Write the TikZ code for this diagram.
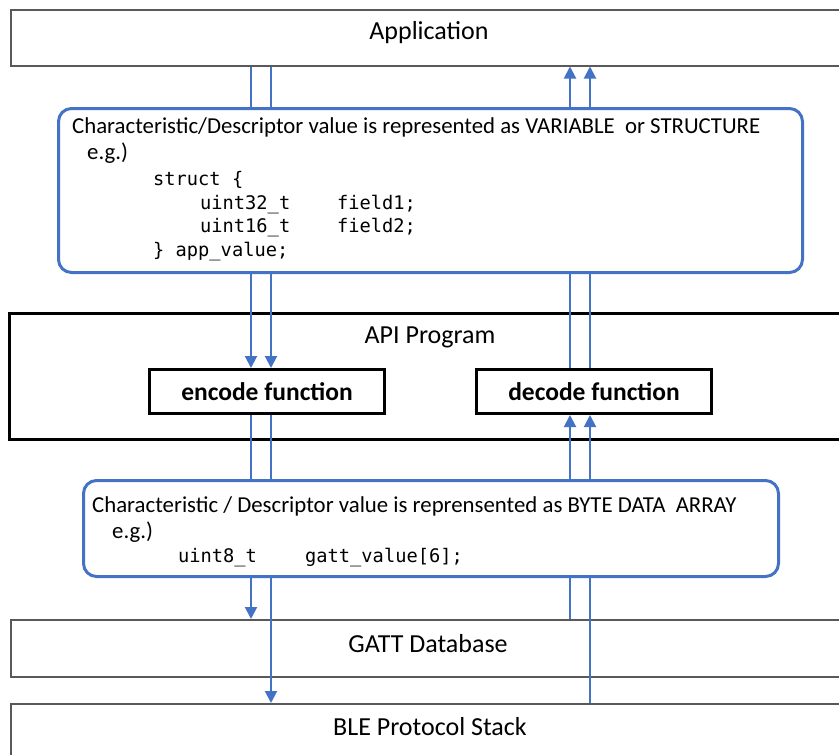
\documentclass[tikz,border=0pt]{standalone}
\usepackage{fontspec}
\setmainfont{Carlito}
\setmonofont{DejaVu Sans Mono}
\usetikzlibrary{arrows.meta}
\definecolor{linkblue}{HTML}{4472C4}
\definecolor{layergray}{HTML}{595959}

\begin{document}
\begin{tikzpicture}[x=1pt,y=-1pt,
  layerbox/.style={draw=layergray, line width=1.5pt, fill=white, anchor=north west, inner sep=0pt},
  valuebox/.style={draw=linkblue, line width=3pt, rounded corners=13pt, fill=white, anchor=north west, inner sep=0pt},
  apibox/.style={draw=black, line width=3pt, anchor=north west, inner sep=0pt},
  funcbox/.style={draw=black, line width=3pt, anchor=north west, inner sep=0pt, fill=white},
  functext/.style={font=\fontsize{25.5}{29}\selectfont\bfseries},
  layertext/.style={font=\fontsize{26}{30}\selectfont},
  flow/.style={draw=linkblue, line width=2pt},
  arr/.style={flow, -{Triangle[width=12pt,length=12pt]}},
  body/.style={anchor=base west, inner sep=0pt, font=\fontsize{22.8}{26}\selectfont},
  code/.style={anchor=base west, inner sep=0pt, font=\fontsize{18.7}{22}\selectfont\ttfamily}
]
\clip (0,0) rectangle (839,755);
\fill[white] (0,0) rectangle (839,755);

% connector columns
\coordinate (c1) at (251,0);
\coordinate (c2) at (271,0);
\coordinate (c3) at (570,0);
\coordinate (c4) at (590,0);

% layers
\node[layerbox, minimum width=850pt, minimum height=56pt] (app) at (10,9) {};
\node[layertext] (applbl) at (429,33) {Application};

\node[valuebox, minimum width=744pt, minimum height=164pt] (var) at (57,107) {};
\node[body] (vart) at (72,133) {Characteristic/Descriptor value is represented as VARIABLE\ \ or STRUCTURE};
\node[body] (vareg) at (87,159) {e.g.)};
\node[code] (v1) at (153,185) {struct \{};
\node[code] (v2a) at (200,209) {uint32\_t};
\node[code] (v2b) at (337,209) {field1;};
\node[code] (v3a) at (200,232) {uint16\_t};
\node[code] (v3b) at (337,232) {field2;};
\node[code] (v4) at (153,256) {\} app\_value;};

\node[apibox, minimum width=850pt, minimum height=126pt] (api) at (8,312) {};
\node[layertext] (apilbl) at (430,337) {API Program};
\node[funcbox, minimum width=235pt, minimum height=44pt] (enc) at (148,368) {};
\node[functext] at (enc.center) {encode function};
\node[funcbox, minimum width=235pt, minimum height=44pt] (dec) at (475,368) {};
\node[functext] at (dec.center) {decode function};

\node[valuebox, minimum width=695pt, minimum height=96pt] (byte) at (82,479) {};
\node[body] (bytet) at (92,512) {Characteristic / Descriptor value is reprensented as BYTE DATA\ \ ARRAY};
\node[body] (byteeg) at (112,538) {e.g.)};
\node[code] (b1a) at (178,562) {uint8\_t};
\node[code] (b1b) at (305,562) {gatt\_value[6];};

\node[layerbox, minimum width=850pt, minimum height=57pt] (gatt) at (10,619) {};
\node[layertext] (gattlbl) at (428,644) {GATT Database};
\node[layerbox, minimum width=850pt, minimum height=80pt] (ble) at (10,703) {};
\node[layertext] (blelbl) at (430,727) {BLE Protocol Stack};

% encode path (downwards)
\draw[flow] (app.south -| c1) -- (var.north -| c1);
\draw[flow] (app.south -| c2) -- (var.north -| c2);
\draw[arr] (var.south -| c1) -- (enc.north -| c1);
\draw[arr] (var.south -| c2) -- (enc.north -| c2);
\draw[flow] (enc.south -| c1) -- (byte.north -| c1);
\draw[flow] (enc.south -| c2) -- (byte.north -| c2);
\draw[arr] (byte.south -| c1) -- (gatt.north -| c1);
\draw[arr] (byte.south -| c2) -- (ble.north -| c2);

% decode path (upwards)
\draw[arr] (var.north -| c3) -- (app.south -| c3);
\draw[arr] (var.north -| c4) -- (app.south -| c4);
\draw[flow] (dec.north -| c3) -- (var.south -| c3);
\draw[flow] (dec.north -| c4) -- (var.south -| c4);
\draw[arr] (byte.north -| c3) -- (dec.south -| c3);
\draw[arr] (byte.north -| c4) -- (dec.south -| c4);
\draw[flow] (gatt.north -| c3) -- (byte.south -| c3);
\draw[flow] (ble.north -| c4) -- (byte.south -| c4);
\end{tikzpicture}
\end{document}
